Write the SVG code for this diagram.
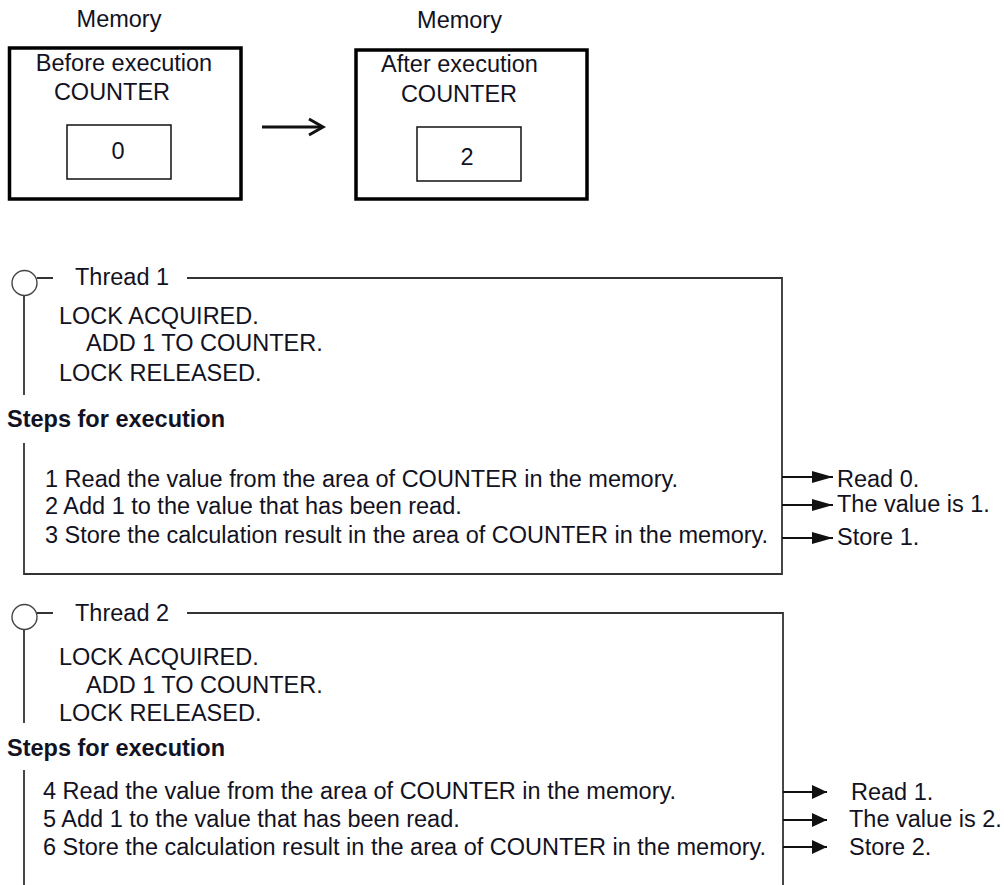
<svg xmlns="http://www.w3.org/2000/svg" width="1004" height="885" viewBox="0 0 1004 885">
<defs>
<style>
text{font-family:"Liberation Sans",Arial,sans-serif;font-size:23.5px;fill:#121222}
.c{text-anchor:middle}
.b{font-weight:bold}
.outer{fill:none;stroke:#000;stroke-width:3.5}
.inner{fill:none;stroke:#111;stroke-width:1.5}
.ln{fill:none;stroke:#333;stroke-width:1.8}
.circ{fill:#fff;stroke:#444;stroke-width:1.4}
.ar1{fill:none;stroke:#111;stroke-width:2;marker-end:url(#h1)}
.ar2{fill:none;stroke:#111;stroke-width:2;marker-end:url(#h2)}
</style>
<marker id="h1" markerUnits="userSpaceOnUse" markerWidth="22" markerHeight="14" refX="21" refY="7" orient="auto">
<path d="M0,1 L21,7 L0,13 Z" fill="#111"/>
</marker>
<marker id="h2" markerUnits="userSpaceOnUse" markerWidth="16" markerHeight="16" refX="15" refY="8" orient="auto">
<path d="M0,1 L15,8 L0,15 Z" fill="#111"/>
</marker>
</defs>
<rect width="1004" height="885" fill="#fff"/>

<g id="mem-before">
<text class="c" x="119" y="27">Memory</text>
<rect class="outer" x="9.5" y="48" width="231.5" height="151"/>
<text class="c" x="124" y="71">Before execution</text>
<text class="c" x="112" y="100">COUNTER</text>
<rect class="inner" x="67" y="125" width="104" height="54"/>
<text class="c" x="118" y="159">0</text>
</g>

<g id="mem-after">
<text class="c" x="459.5" y="28">Memory</text>
<rect class="outer" x="356" y="50" width="231" height="149"/>
<text class="c" x="459.5" y="72">After execution</text>
<text class="c" x="459" y="102">COUNTER</text>
<rect class="inner" x="417" y="127" width="104" height="54"/>
<text class="c" x="467" y="165">2</text>
</g>

<g id="thread1">
<circle class="circ" cx="24.5" cy="283" r="12.5"/>
<path class="ln" d="M37,278 H53 M187,278 H782 V574 H24 V443 M24,296 V395"/>
<text x="75" y="285">Thread 1</text>
<text x="59" y="324">LOCK ACQUIRED.</text>
<text x="86" y="351">ADD 1 TO COUNTER.</text>
<text x="59" y="381">LOCK RELEASED.</text>
<text class="b" x="7" y="427">Steps for execution</text>
<text x="45" y="487">1 Read the value from the area of COUNTER in the memory.</text>
<text x="45" y="514">2 Add 1 to the value that has been read.</text>
<text x="45" y="543">3 Store the calculation result in the area of COUNTER in the memory.</text>
<text x="837" y="487">Read 0.</text>
<text x="837" y="512">The value is 1.</text>
<text x="837" y="545">Store 1.</text>
</g>

<g id="thread2">
<circle class="circ" cx="24.5" cy="617" r="12.5"/>
<path class="ln" d="M37,613 H53 M187,613 H783 V885 M24,630 V723 M24,770 V885"/>
<text x="75" y="621">Thread 2</text>
<text x="59" y="665">LOCK ACQUIRED.</text>
<text x="86" y="693">ADD 1 TO COUNTER.</text>
<text x="59" y="721">LOCK RELEASED.</text>
<text class="b" x="7" y="756">Steps for execution</text>
<text x="43" y="799">4 Read the value from the area of COUNTER in the memory.</text>
<text x="43" y="827">5 Add 1 to the value that has been read.</text>
<text x="43" y="855">6 Store the calculation result in the area of COUNTER in the memory.</text>
<text x="851" y="800">Read 1.</text>
<text x="849" y="827">The value is 2.</text>
<text x="849" y="855">Store 2.</text>
</g>

<g id="connectors">
<path d="M262,127 H321" fill="none" stroke="#111" stroke-width="3"/>
<path d="M309,119 L323,127 L309,135" fill="none" stroke="#111" stroke-width="3"/>
<path class="ar1" d="M782,477 H833"/>
<path class="ar1" d="M782,505 H833"/>
<path class="ar1" d="M782,538 H833"/>
<path class="ar2" d="M783,792 H827"/>
<path class="ar2" d="M783,820 H827"/>
<path class="ar2" d="M783,847 H827"/>
</g>
</svg>
